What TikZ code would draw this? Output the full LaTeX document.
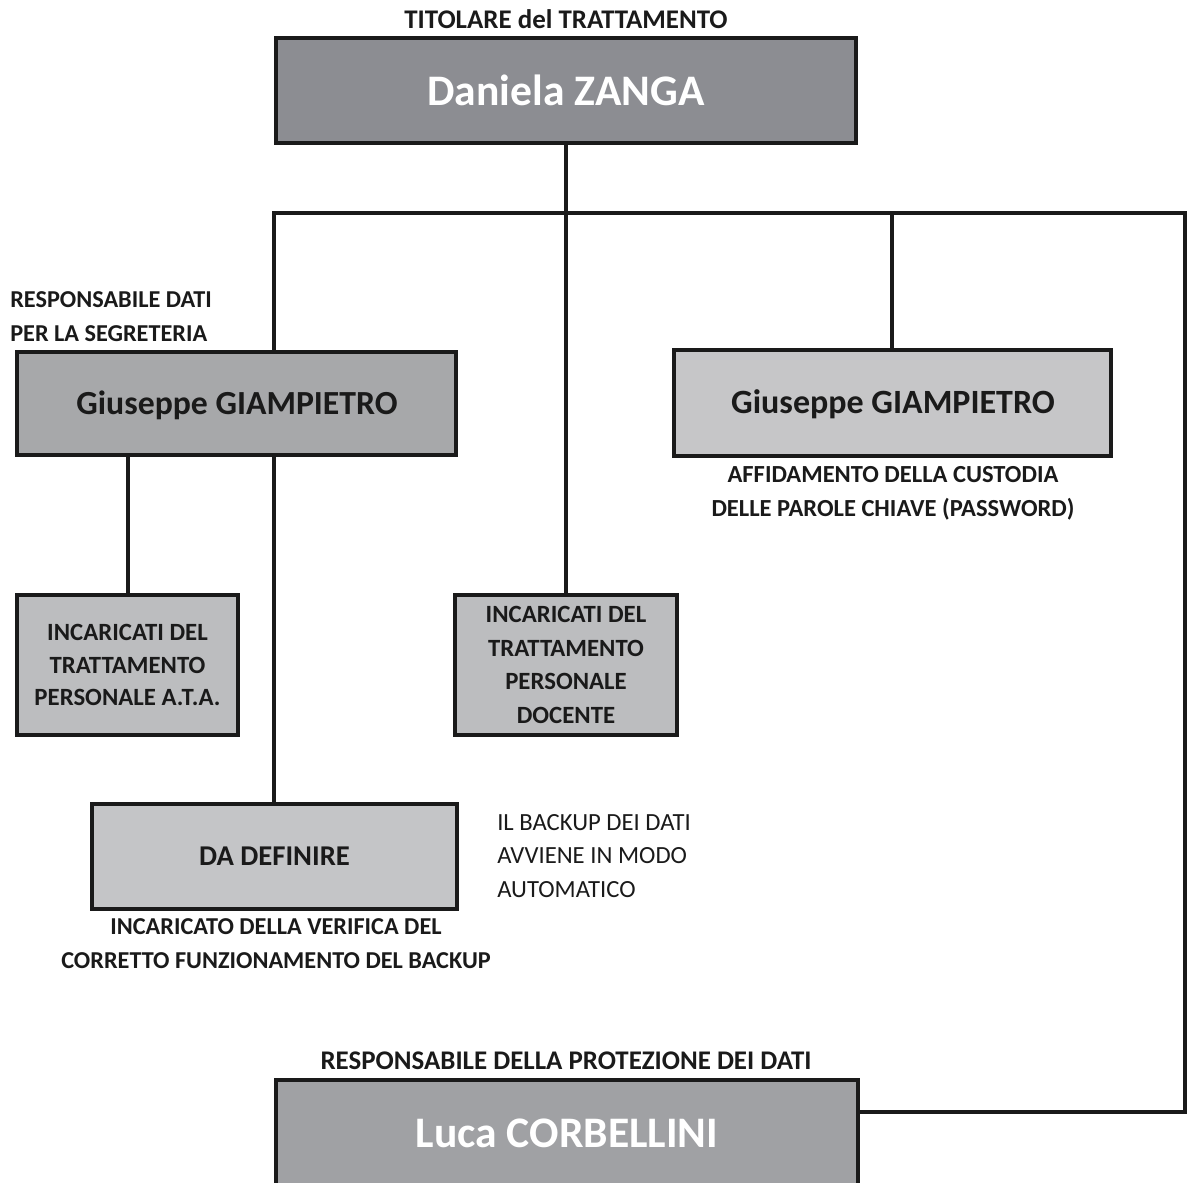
\documentclass[tikz,border=0pt]{standalone}
\usepackage{fontspec}
\setmainfont{Carlito}
\definecolor{inkc}{HTML}{1A1A1A}
\definecolor{fillA}{HTML}{8C8D92}
\definecolor{fillB}{HTML}{A7A8AA}
\definecolor{fillC}{HTML}{C6C6C8}
\definecolor{fillD}{HTML}{BCBDBF}
\definecolor{fillE}{HTML}{C4C5C7}
\definecolor{fillF}{HTML}{A0A1A4}
\begin{document}
\begin{tikzpicture}[x=0.75pt,y=-0.75pt,
  box/.style={draw=inkc,line width=3pt,rectangle,inner sep=0pt,align=center,font=\bfseries},
  conn/.style={draw=inkc,line width=3pt},
  lbl/.style={text=inkc,align=center,inner sep=0pt},
  plain/.style={font=\fontsize{18.5}{25}\selectfont,text=inkc,align=left,inner sep=0pt}]
\useasboundingbox (0,0) rectangle (1187,1182);
\clip (0,0) rectangle (1187,1182);
% boxes
\node[box,fill=fillA,minimum width=580*0.75pt,minimum height=105*0.75pt,text=white,font=\fontsize{32.7}{36}\selectfont\bfseries] (top) at (566,90.5) {Daniela ZANGA};
\node[box,fill=fillB,minimum width=439*0.75pt,minimum height=103*0.75pt] (seg) at (236.5,403.5) {};
\node[lbl,font=\fontsize{25.3}{30}\selectfont\bfseries] (segname) at (237,405) {Giuseppe GIAMPIETRO};
\node[box,fill=fillC,minimum width=437*0.75pt,minimum height=106*0.75pt] (pwd) at (892.5,403) {};
\node[lbl,font=\fontsize{25.5}{30}\selectfont\bfseries] (pwdname) at (893,404.5) {Giuseppe GIAMPIETRO};
\node[box,fill=fillD,minimum width=221*0.75pt,minimum height=140*0.75pt,text=inkc,font=\fontsize{18.6}{24.4}\selectfont\bfseries] (ata) at (127.5,665) {INCARICATI DEL\\TRATTAMENTO\\PERSONALE A.T.A.};
\node[box,fill=fillD,minimum width=222*0.75pt,minimum height=140*0.75pt,text=inkc,font=\fontsize{18.6}{25.2}\selectfont\bfseries] (doc) at (566,665) {INCARICATI DEL\\TRATTAMENTO\\PERSONALE\\DOCENTE};
\node[box,fill=fillE,minimum width=365*0.75pt,minimum height=105*0.75pt,text=inkc,font=\fontsize{21.5}{26}\selectfont\bfseries] (dd) at (274.5,856.5) {DA DEFINIRE};
\node[box,fill=fillF,minimum width=582*0.75pt,minimum height=140*0.75pt] (bot) at (567,1150) {};
\node[text=white,font=\fontsize{32.7}{36}\selectfont\bfseries,inner sep=0pt] (botname) at (567,1133) {Luca CORBELLINI};
% labels
\node[lbl,font=\fontsize{20.2}{25.5}\selectfont\bfseries] (tTit) at (566,19) {TITOLARE del TRATTAMENTO};
\node[lbl,font=\fontsize{18.2}{25.5}\selectfont\bfseries,align=left,anchor=west] (tSeg) at (10,317) {RESPONSABILE DATI\\PER LA SEGRETERIA};
\node[lbl,font=\fontsize{18.4}{25.5}\selectfont\bfseries] (tPwd) at (893,493) {AFFIDAMENTO DELLA CUSTODIA\\DELLE PAROLE CHIAVE (PASSWORD)};
\node[lbl,font=\fontsize{18.2}{25.5}\selectfont\bfseries] (tDd) at (276,944) {INCARICATO DELLA VERIFICA DEL\\CORRETTO FUNZIONAMENTO DEL BACKUP};
\node[plain,anchor=west] (tBk) at (497,856) {IL BACKUP DEI DATI\\AVVIENE IN MODO\\AUTOMATICO};
\node[lbl,font=\fontsize{20.2}{25.5}\selectfont\bfseries] (tBot) at (566,1061) {RESPONSABILE DELLA PROTEZIONE DEI DATI};
% connectors
\coordinate (busL) at (274,213);
\coordinate (busR) at (1185,213);
\coordinate (rb) at (1185,1112);
\coordinate (busM) at (892,213);
\draw[conn] (top.south) -- (doc.north);
\draw[conn,line cap=rect] (busL) -- (busR) -- (rb) -- (rb -| bot.east);
\draw[conn] (busL) -- (busL |- seg.north);
\draw[conn] (busM) -- (busM |- pwd.north);
\draw[conn] (ata.north |- seg.south) -- (ata.north);
\draw[conn] (busL |- seg.south) -- (busL |- dd.north);
\end{tikzpicture}
\end{document}
